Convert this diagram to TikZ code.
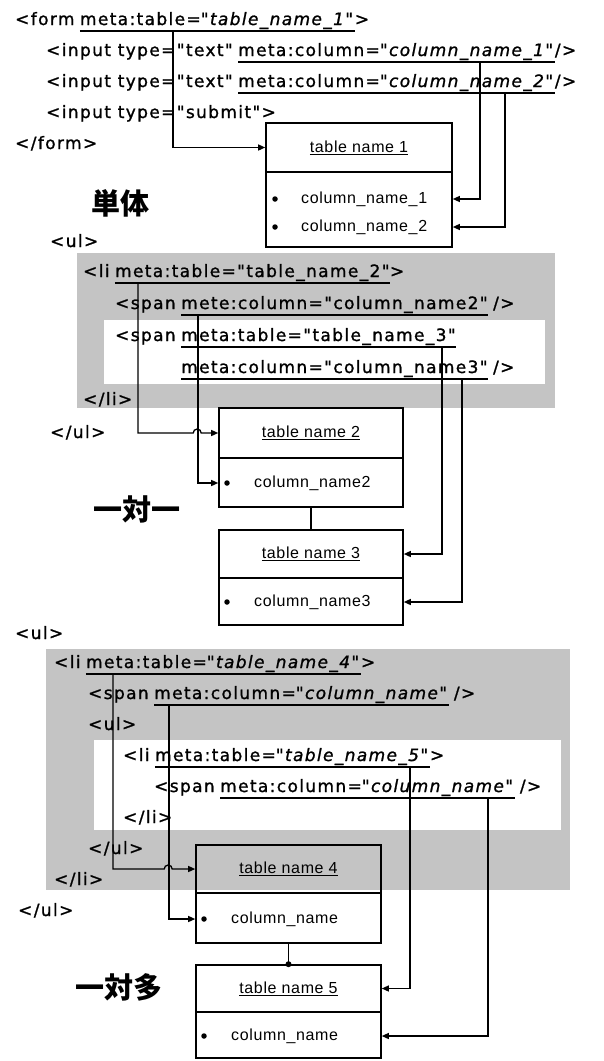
\documentclass[tikz,border=0pt]{standalone}
\usepackage{fontspec}
\setmainfont{DejaVu Sans}
\newfontfamily\codefont[LetterSpace=8,FakeBold=1.2]{DejaVu Sans}
\newfontfamily\tabfont[LetterSpace=4]{Liberation Sans}
\newfontfamily\jpfont{Noto Sans CJK JP}
\usetikzlibrary{arrows.meta,calc}
\begin{document}
\begin{tikzpicture}[x=1pt,y=-1pt,
  code/.style={font=\codefont\fontsize{17}{20}\selectfont, inner sep=0pt, anchor=base west},
  tabtext/.style={font=\tabfont\fontsize{16}{19}\selectfont, inner sep=0pt},
  jp/.style={font=\jpfont\bfseries\fontsize{29}{32}\selectfont, inner sep=0pt},
  uline/.style={line width=2pt},
  conn/.style={line width=1.3pt, -{Triangle[length=7pt,width=6pt]}},
  plainline/.style={line width=1.3pt},
  tbox/.style={draw, line width=1.6pt, inner sep=0pt},
  grayband/.style={fill=black!23},
  whiteband/.style={fill=white},
  bulletdot/.style={circle, fill, inner sep=0pt, minimum size=5.5pt},
]
\useasboundingbox (0,0) rectangle (604,1061);

% ---------- backgrounds ----------
\fill[grayband] (77,253) rectangle (555,408);
\fill[whiteband] (104,320) rectangle (545,384);
\fill[grayband] (46,649) rectangle (570,890);
\fill[whiteband] (94,740) rectangle (561,830);

% ---------- section 1 text ----------
\node[code] (L1a) at (15,25) {<form\kern.3em};
\node[code] (L1b) at (L1a.base east) {meta:table=\textit{"table\_name\_1"}};
\node[code] (L1c) at (L1b.base east) {>};
\node[code] (L2a) at (46,56) {<input type="text"\kern.3em};
\node[code] (L2b) at (L2a.base east) {meta:column=\textit{"column\_name\_1"}};
\node[code] (L2c) at (L2b.base east) {/>};
\node[code] (L3a) at (46,87) {<input type="text"\kern.3em};
\node[code] (L3b) at (L3a.base east) {meta:column=\textit{"column\_name\_2"}};
\node[code] (L3c) at (L3b.base east) {/>};
\node[code] (L4) at (46,118) {<input type="submit">};
\node[code] (L5) at (15,149) {</form>};
\foreach \n in {L1b,L2b,L3b}
  \draw[uline] ($(\n.base west)+(0,6)$) -- ($(\n.base east)+(0,6)$);

% table 1
\node[tbox, tabtext, minimum width=186pt, minimum height=49pt] (t1h) at (359,147.5) {\underline{table name 1}};
\node[tbox, minimum width=186pt, minimum height=75pt] (t1b) at (359,209.5) {};
\node[bulletdot] (b11) at (275,199) {};
\node[tabtext, anchor=west] (c11) at (301,199) {column\_name\_1};
\node[bulletdot] (b12) at (275,227) {};
\node[tabtext, anchor=west] (c12) at (301,227) {column\_name\_2};
\node[jp] (j1) at (120,203) {単体};

\coordinate (s1v1) at (173,31);
\coordinate (s1v2) at (480,62);
\coordinate (s1v3) at (505,93);
\draw[conn] (s1v1) |- (t1h.west);
\draw[conn] (s1v2) |- (t1b.east |- c11);
\draw[conn] (s1v3) |- (t1b.east |- c12);

% ---------- section 2 text ----------
\node[code] (M0) at (50,247) {<ul>};
\node[code] (M1a) at (83,277) {<li\kern.3em};
\node[code] (M1b) at (M1a.base east) {meta:table="table\_name\_2"};
\node[code] (M1c) at (M1b.base east) {>};
\node[code] (M2a) at (115,309) {<span\kern.3em};
\node[code] (M2b) at (M2a.base east) {mete:column="column\_name2"};
\node[code] (M2c) at (M2b.base east) {\kern.3em/>};
\node[code] (M3a) at (115,341) {<span\kern.3em};
\node[code] (M3b) at (M3a.base east) {meta:table="table\_name\_3"};
\node[code] (M4b) at ($(M3b.base west)+(0,32)$) {meta:column="column\_name3"};
\node[code] (M4c) at (M4b.base east) {\kern.3em/>};
\node[code] (M5) at (83,405) {</li>};
\node[code] (M6) at (50,438) {</ul>};
\foreach \n in {M1b,M2b,M3b,M4b}
  \draw[uline] ($(\n.base west)+(0,6)$) -- ($(\n.base east)+(0,6)$);

% tables 2 and 3
\node[tbox, tabtext, minimum width=184pt, minimum height=50pt] (t2h) at (311,433) {\underline{table name 2}};
\node[tbox, minimum width=184pt, minimum height=49pt] (t2b) at (311,482.5) {};
\node[bulletdot] (b2) at (227,483) {};
\node[tabtext, anchor=west] (c2) at (254,483) {column\_name2};
\node[tbox, tabtext, minimum width=184pt, minimum height=48pt] (t3h) at (311,554) {\underline{table name 3}};
\node[tbox, minimum width=184pt, minimum height=47pt] (t3b) at (311,601.5) {};
\node[bulletdot] (b3) at (227,602) {};
\node[tabtext, anchor=west] (c3) at (254,602) {column\_name3};
\draw[plainline] (t2b.south) -- (t3h.north);
\node[jp] (j2) at (137,509) {一対一};

\coordinate (s2v1) at (138,283);
\coordinate (s2v2) at (198,315);
\coordinate (s2v3) at (442,347);
\coordinate (s2v4) at (462,379);
\draw[conn] (s2v1) |- ([xshift=-25pt]t2h.west) arc[start angle=180,end angle=360,radius=4] -- (t2h.west);
\draw[conn] (s2v2) |- (t2b.west |- c2);
\draw[conn] (s2v3) |- (t3h.east);
\draw[conn] (s2v4) |- (t3b.east |- c3);

% ---------- section 3 text ----------
\node[code] (N0) at (15,639) {<ul>};
\node[code] (N1a) at (54,668) {<li\kern.3em};
\node[code] (N1b) at (N1a.base east) {meta:table=\textit{"table\_name\_4"}};
\node[code] (N1c) at (N1b.base east) {>};
\node[code] (N2a) at (88,699) {<span\kern.3em};
\node[code] (N2b) at (N2a.base east) {meta:column=\textit{"column\_name"}};
\node[code] (N2c) at (N2b.base east) {\kern.3em/>};
\node[code] (N3) at (88,730) {<ul>};
\node[code] (N4a) at (123,761) {<li\kern.3em};
\node[code] (N4b) at (N4a.base east) {meta:table=\textit{"table\_name\_5"}};
\node[code] (N4c) at (N4b.base east) {>};
\node[code] (N5a) at (154,792) {<span\kern.3em};
\node[code] (N5b) at (N5a.base east) {meta:column=\textit{"column\_name"}};
\node[code] (N5c) at (N5b.base east) {\kern.3em/>};
\node[code] (N6) at (123,823) {</li>};
\node[code] (N7) at (88,854) {</ul>};
\node[code] (N8) at (54,885) {</li>};
\node[code] (N9) at (18,916) {</ul>};
\foreach \n in {N1b,N2b,N4b,N5b}
  \draw[uline] ($(\n.base west)+(0,6)$) -- ($(\n.base east)+(0,6)$);

% tables 4 and 5
\node[tbox, tabtext, minimum width=185pt, minimum height=48pt] (t4h) at (288.5,869) {\underline{table name 4}};
\node[tbox, minimum width=185pt, minimum height=50pt] (t4b) at (288.5,918) {};
\node[bulletdot] (b4) at (204,919) {};
\node[tabtext, anchor=west] (c4) at (231,919) {column\_name};
\node[tbox, tabtext, minimum width=185pt, minimum height=47pt] (t5h) at (288.5,988.5) {\underline{table name 5}};
\node[tbox, minimum width=185pt, minimum height=46pt] (t5b) at (288.5,1035) {};
\node[bulletdot] (b5) at (204,1036) {};
\node[tabtext, anchor=west] (c5) at (231,1036) {column\_name};
\draw[plainline] (t4b.south) -- (t5h.north);
\fill (t5h.north) circle (3);
\node[jp] (j3) at (119,987) {一対多};

\coordinate (s3v1) at (113,674);
\coordinate (s3v2) at (169,705);
\coordinate (s3v3) at (410,767);
\coordinate (s3v4) at (488,798);
\draw[conn] (s3v1) |- ([xshift=-31pt]t4h.west) arc[start angle=180,end angle=360,radius=4] -- (t4h.west);
\draw[conn] (s3v2) |- (t4b.west |- c4);
\draw[conn] (s3v3) |- (t5h.east);
\draw[conn] (s3v4) |- (t5b.east |- c5);
\end{tikzpicture}
\end{document}
